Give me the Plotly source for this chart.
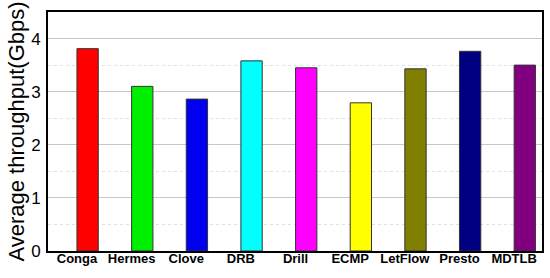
import plotly.graph_objects as go

categories = ["Conga", "Hermes", "Clove", "DRB", "Drill", "ECMP", "LetFlow", "Presto", "MDTLB"]
throughput = [3.81, 3.10, 2.86, 3.58, 3.45, 2.79, 3.43, 3.76, 3.50]
bar_colors = ["#FF0000", "#00EE00", "#0000EE", "#00FFFF", "#FF00FF", "#FFFF00", "#808000", "#000080", "#800080"]
y_ticks = [0, 1, 2, 3, 4]

fig = go.Figure()
fig.add_trace(go.Bar(
    x=categories, y=throughput,
    marker=dict(color=bar_colors, line=dict(color="#333333", width=1)),
    width=0.39, offset=0,
))

fig.update_layout(
    width=550, height=278,
    margin=dict(l=48, r=8, t=12, b=27),
    plot_bgcolor="white", paper_bgcolor="white",
    showlegend=False,
    font=dict(family="Arial, Liberation Sans", color="black"),
)
fig.update_xaxes(
    range=[-0.53, 8.51],
    automargin=False,
    showline=True, linecolor="black", linewidth=2, mirror=True,
    ticks="", tickfont=dict(size=13, family="Arial, Liberation Sans", weight="bold"),
    ticklabelstandoff=-6,
    showgrid=False,
)
fig.update_yaxes(
    range=[0, 4.5],
    automargin=False,
    tickvals=y_ticks,
    showline=True, linecolor="black", linewidth=2, mirror=True,
    ticks="", tickfont=dict(size=17),
    gridcolor="#c8c8c8", gridwidth=1,
    minor=dict(dtick=0.5, showgrid=True, gridcolor="#e0e0e0", griddash="dot"),
    title=dict(text="Average throughput(Gbps)", font=dict(size=22), standoff=0),
    ticklabelstandoff=2,
    zeroline=False,
)
fig.write_html("out.html", config={"displayModeBar": False},
               post_script="document.body.style.margin='0';document.body.style.overflow='hidden';")
